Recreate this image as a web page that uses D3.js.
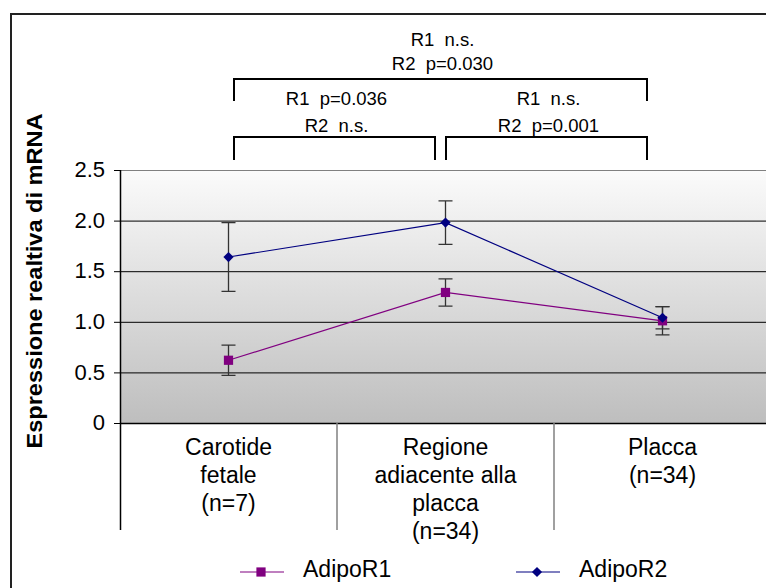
<!DOCTYPE html>
<html>
<head>
<meta charset="utf-8">
<script src="https://cdn.jsdelivr.net/npm/d3@7"></script>
<style>
body { margin: 0; background: #fff; }
text { font-family: "Liberation Sans", Arial, sans-serif; fill: #000; }
</style>
</head>
<body>
<script>
// dati
var categorie = [["Carotide", "fetale", "(n=7)"], ["Regione", "adiacente alla", "placca", "(n=34)"], ["Placca", "(n=34)"]];
var serie = ["AdipoR1", "AdipoR2"];
var valoriR1 = [0.62, 1.29, 1.01];
var erroriR1 = [0.15, 0.135, 0.14];
var valoriR2 = [1.64, 1.98, 1.04];
var erroriR2 = [0.34, 0.215, 0.11];
var yTicks = [0, 0.5, 1.0, 1.5, 2.0, 2.5];
var confronti = [[0, 2], [0, 1], [1, 2]];
var testiConfronti = [["R1  n.s.", "R2  p=0.030"], ["R1  p=0.036", "R2  n.s."], ["R1  n.s.", "R2  p=0.001"]];

var w = 766, h = 588;
var svg = d3.select("body").append("svg").attr("width", w).attr("height", h);

var x = d3.scaleBand().domain([0, 1, 2]).range([120, 771]);
var y = d3.scaleLinear().domain([0, 2.5]).range([423, 170]);
var cx = function(i) { return x(i) + x.bandwidth() / 2; };

// bordo esterno
svg.append("rect").attr("x", 11).attr("y", 14).attr("width", 800).attr("height", 620)
  .attr("fill", "none").attr("stroke", "#222").attr("stroke-width", 2);

// sfondo sfumato
var grad = svg.append("defs").append("linearGradient").attr("id", "bg")
  .attr("x1", 0).attr("y1", 0).attr("x2", 0).attr("y2", 1);
grad.append("stop").attr("offset", "0%").attr("stop-color", "#fbfbfb");
grad.append("stop").attr("offset", "100%").attr("stop-color", "#bebebe");
svg.append("rect").attr("x", 120).attr("y", y(2.5)).attr("width", 651).attr("height", y(0) - y(2.5))
  .attr("fill", "url(#bg)");

// griglia
svg.selectAll(".grid").data(yTicks.filter(function(d) { return d > 0 && d < 2.5; })).enter()
  .append("line").attr("x1", 120).attr("x2", 771)
  .attr("y1", function(d) { return y(d) + 0.5; }).attr("y2", function(d) { return y(d) + 0.5; })
  .attr("stroke", "#000").attr("stroke-width", 1);
svg.append("line").attr("x1", 120).attr("x2", 771).attr("y1", y(2.5) + 0.5).attr("y2", y(2.5) + 0.5)
  .attr("stroke", "#808080").attr("stroke-width", 1.2);

// asse y
var yAxis = svg.append("g").attr("transform", "translate(120,0)")
  .call(d3.axisLeft(y).tickValues(yTicks).tickSize(6).tickPadding(9)
    .tickFormat(function(d) { return d === 0 ? "0" : d3.format(".1f")(d); }));
yAxis.select(".domain").remove();
yAxis.selectAll(".tick line").attr("stroke", "#000");
yAxis.selectAll("text").style("font-size", "22px").attr("dy", "0.3em")
  .style("font-family", "'Liberation Sans', Arial, sans-serif");
svg.append("line").attr("x1", 120.5).attr("x2", 120.5).attr("y1", 170).attr("y2", 530)
  .attr("stroke", "#000").attr("stroke-width", 1.5);
svg.append("line").attr("x1", 120).attr("x2", 771).attr("y1", y(0) + 0.5).attr("y2", y(0) + 0.5)
  .attr("stroke", "#000").attr("stroke-width", 1.5);

// separatori categorie
svg.selectAll(".sep").data([1, 2]).enter().append("line")
  .attr("x1", function(d) { return x(d); }).attr("x2", function(d) { return x(d); })
  .attr("y1", y(0)).attr("y2", 530).attr("stroke", "#808080").attr("stroke-width", 1.5);

// etichette categorie
categorie.forEach(function(righe, i) {
  svg.selectAll(null).data(righe).enter().append("text")
    .attr("x", cx(i)).attr("y", function(d, k) { return 455 + k * 28; })
    .attr("text-anchor", "middle").style("font-size", "23px").text(function(d) { return d; });
});

// titolo asse y
svg.append("text").attr("transform", "translate(42,281) rotate(-90)")
  .attr("text-anchor", "middle").style("font-size", "22px").style("font-weight", "bold")
  .attr("textLength", 335).attr("lengthAdjust", "spacingAndGlyphs")
  .text("Espressione realtiva di mRNA");

// serie (rombo = quadrato ruotato)
var dati = [
  { nome: serie[0], valori: valoriR1, errori: erroriR1, colore: "#800080", size: 85, ruota: 0 },
  { nome: serie[1], valori: valoriR2, errori: erroriR2, colore: "#000080", size: 52, ruota: 45 }
];
var linea = d3.line().x(function(d, i) { return cx(i); }).y(function(d) { return y(d); });

dati.forEach(function(s) {
  var g = svg.append("g");
  g.selectAll(".err").data(s.valori).enter().append("path")
    .attr("d", function(d, i) {
      var xx = cx(i), y1 = y(d + s.errori[i]), y2 = y(d - s.errori[i]);
      return "M" + xx + "," + y1 + "V" + y2 + "M" + (xx - 7) + "," + y1 + "H" + (xx + 7) +
        "M" + (xx - 7) + "," + y2 + "H" + (xx + 7);
    })
    .attr("fill", "none").attr("stroke", "#333").attr("stroke-width", 1.3);
});
dati.forEach(function(s) {
  svg.append("path").datum(s.valori).attr("d", linea)
    .attr("fill", "none").attr("stroke", s.colore).attr("stroke-width", 1.2);
  svg.selectAll(null).data(s.valori).enter().append("path")
    .attr("d", d3.symbol().type(d3.symbolSquare).size(s.size))
    .attr("transform", function(d, i) { return "translate(" + cx(i) + "," + y(d) + ") rotate(" + s.ruota + ")"; })
    .attr("fill", s.colore);
});

// confronti statistici
var livelli = [{ top: 79, bottom: 101, testo: [46, 70] }, { top: 137, bottom: 160, testo: [105, 132] }, { top: 137, bottom: 160, testo: [105, 132] }];
var offset = [[5.5, -15.5], [5.5, -10.5], [0.5, -15.5]];
confronti.forEach(function(c, k) {
  var x1 = cx(c[0]) + offset[k][0], x2 = cx(c[1]) + offset[k][1], L = livelli[k];
  svg.append("path").attr("d", "M" + x1 + "," + L.bottom + "V" + L.top + "H" + x2 + "V" + L.bottom)
    .attr("fill", "none").attr("stroke", "#000").attr("stroke-width", 2);
  svg.selectAll(null).data(testiConfronti[k]).enter().append("text")
    .attr("x", (x1 + x2) / 2 + 2).attr("y", function(d, j) { return L.testo[j]; })
    .attr("text-anchor", "middle").style("font-size", "18.5px").style("white-space", "pre")
    .text(function(d) { return d; });
});

// legenda
var legX = [240, 516];
dati.forEach(function(s, i) {
  var lg = svg.append("g").attr("transform", "translate(" + legX[i] + ",572)");
  lg.append("line").attr("x1", 0).attr("x2", 44).attr("stroke", s.colore).attr("stroke-width", 1.2);
  lg.append("path").attr("d", d3.symbol().type(d3.symbolSquare).size(s.size))
    .attr("transform", "translate(21,0) rotate(" + s.ruota + ")").attr("fill", s.colore);
  lg.append("text").attr("x", 63).attr("y", 5).style("font-size", "23px").text(s.nome);
});
</script>
</body>
</html>
